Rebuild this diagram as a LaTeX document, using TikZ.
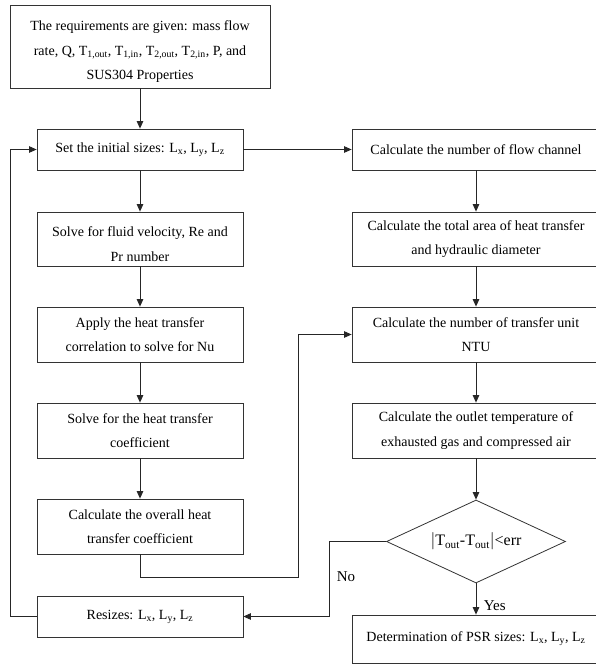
\documentclass[tikz,border=0pt]{standalone}
\usepackage{fontspec}
\setmainfont{Liberation Serif}
\usetikzlibrary{arrows.meta,shapes.geometric}
\newcommand{\lowstrut}{\rule{0pt}{20pt}}
\begin{document}
\begin{tikzpicture}[x=1pt,y=-1pt,
  every node/.style={font=\fontsize{14}{24.5}\selectfont, text=black},
  lbox/.style={draw=black!80, line width=0.8pt, minimum width=206pt, align=center, inner sep=0pt},
  rbox/.style={draw=black!80, line width=0.8pt, minimum width=248pt, align=center, inner sep=0pt},
  conn/.style={draw=black!85, line width=0.9pt},
  arr/.style={conn, -{Triangle[length=7.5pt,width=6.5pt]}}]
\useasboundingbox[fill=white] (0,0) rectangle (596,664);
% left column
\node[lbox, minimum width=260pt, minimum height=83pt] (req) at (140,46.5)
  {\lowstrut The requirements are given: mass flow\\rate, Q, T\textsubscript{1,out}, T\textsubscript{1,in}, T\textsubscript{2,out}, T\textsubscript{2,in}, P, and\\SUS304 Properties};
\node[lbox, minimum height=41pt] (set) at (140,149.5) {Set the initial sizes: L\textsubscript{x}, L\textsubscript{y}, L\textsubscript{z}};
\node[lbox, minimum height=54pt] (vel) at (140,239) {\lowstrut Solve for fluid velocity, Re and\\Pr number};
\node[lbox, minimum height=55pt] (nu) at (140,334.5) {Apply the heat transfer\\correlation to solve for Nu};
\node[lbox, minimum height=55pt] (hc) at (140,430.5) {Solve for the heat transfer\\coefficient};
\node[lbox, minimum height=55pt] (uc) at (140,526.5) {Calculate the overall heat\\transfer coefficient};
\node[lbox, minimum height=41pt] (rs) at (140,616.5) {Resizes: L\textsubscript{x}, L\textsubscript{y}, L\textsubscript{z}};
% right column
\node[rbox, minimum height=41pt] (fc) at (476,149.5) {Calculate the number of flow channel};
\node[rbox, minimum height=54pt] (ar) at (476,239) {Calculate the total area of heat transfer\\and hydraulic diameter};
\node[rbox, minimum height=55pt] (ntu) at (476,334.5) {Calculate the number of transfer unit\\NTU};
\node[rbox, minimum height=55pt] (ot) at (476,430.5) {Calculate the outlet temperature of\\exhausted gas and compressed air};
\node[draw=black!80, line width=0.8pt, shape=diamond, aspect=2.16, minimum width=179pt, minimum height=83pt, inner sep=0pt, font=\fontsize{16}{19}\selectfont] (dm) at (476,541.5)
  {$|$T\textsubscript{out}-T\textsubscript{out}$|$<err};
\node[rbox, minimum height=48pt] (psr) at (476,639) {Determination of PSR sizes: L\textsubscript{x}, L\textsubscript{y}, L\textsubscript{z}};
% coordinates
\coordinate (jx) at (298,577);
\coordinate (nx) at (329,616.5);
\coordinate (lx) at (10,616.5);
% connectors
\draw[arr] (req) -- (set);
\draw[arr] (set) -- (vel);
\draw[arr] (vel) -- (nu);
\draw[arr] (nu) -- (hc);
\draw[arr] (hc) -- (uc);
\draw[arr] (set.east) -- (fc.west);
\draw[arr] (fc) -- (ar);
\draw[arr] (ar) -- (ntu);
\draw[arr] (ntu) -- (ot);
\draw[arr] (ot) -- (dm.north);
\draw[arr] (uc.south) |- (jx) |- (ntu.west);
\draw[arr] (dm.west) -| (nx) -- (rs.east);
\draw[arr] (rs.west) -- (lx) |- (set.west);
\draw[arr] (dm.south) -- node[right, xshift=4pt, yshift=-7pt, font=\fontsize{15}{18}\selectfont] {Yes} (psr.north);
\node[font=\fontsize{15}{18}\selectfont] (no) at (346,577) {No};
\end{tikzpicture}
\end{document}
